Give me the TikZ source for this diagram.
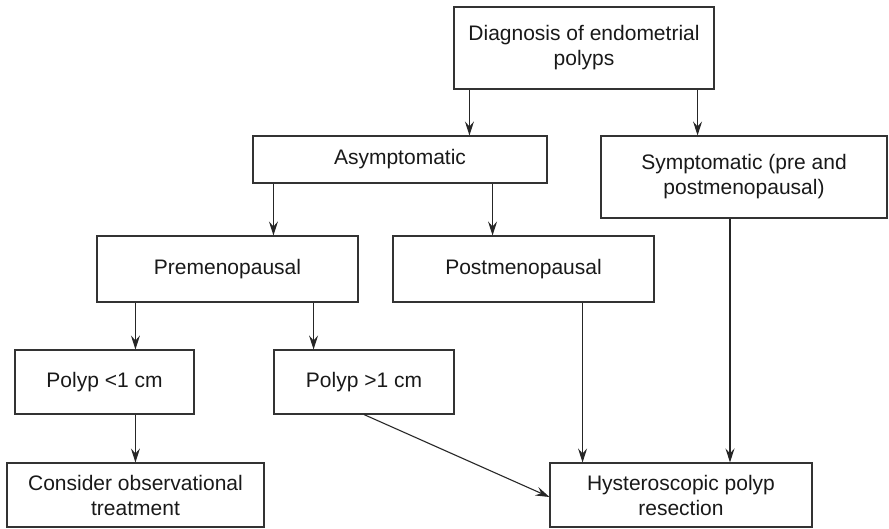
\documentclass[tikz,border=0pt]{standalone}
\usepackage{fontspec}
\setmainfont{Liberation Sans}
\usepackage{tikz}
\usetikzlibrary{arrows.meta,calc}

\begin{document}
\begin{tikzpicture}[
x=1pt,y=-1pt,
font=\fontsize{21}{25}\selectfont,
box/.style={draw=black!80,line width=1.1pt,align=center,inner sep=0pt,text=black!90},
oneway/.style={-{Stealth[length=14pt,width=9pt,inset=5pt]},line width=1.1pt,draw=black!85},
scale=1]
    \useasboundingbox (0,0) rectangle (889,528);

    % Draw boxes
    \node[box,minimum width=260,minimum height=82] (diag) at (584,48)
        {Diagnosis of endometrial\\polyps};
    \node[box,minimum width=294,minimum height=47] (asym) at (400,159.5)
        {Asymptomatic};
    \node[box,minimum width=286,minimum height=82] (symp) at (744,177)
        {Symptomatic (pre and\\postmenopausal)};
    \node[box,minimum width=261,minimum height=66] (pre) at (227.5,269)
        {Premenopausal};
    \node[box,minimum width=261,minimum height=66] (post) at (523.5,269)
        {Postmenopausal};
    \node[box,minimum width=179,minimum height=64] (small) at (104.5,382)
        {Polyp <1 cm};
    \node[box,minimum width=180,minimum height=64] (large) at (364,382)
        {Polyp >1 cm};
    \node[box,minimum width=257,minimum height=64] (obs) at (135.5,495)
        {Consider observational\\treatment};
    \node[box,minimum width=262,minimum height=64] (hyst) at (681,495)
        {Hysteroscopic polyp\\resection};

    % Draw arrows
    \draw[oneway] ([xshift=16]diag.south west) -- ([xshift=16]diag.south west |- asym.north);
    \draw[oneway] ([xshift=-17]diag.south east) -- ([xshift=-17]diag.south east |- symp.north);
    \draw[oneway] ([xshift=21]asym.south west) -- ([xshift=21]asym.south west |- pre.north);
    \draw[oneway] ([xshift=-55]asym.south east) -- ([xshift=-55]asym.south east |- post.north);
    \draw[oneway] ([xshift=39]pre.south west) -- ([xshift=39]pre.south west |- small.north);
    \draw[oneway] ([xshift=-45]pre.south east) -- ([xshift=-45]pre.south east |- large.north);
    \draw[oneway] ([xshift=121]small.south west) -- ([xshift=121]small.south west |- obs.north);
    \draw[oneway] (large.south) -- ([yshift=-2]hyst.west);
    \draw[oneway] ([xshift=-72]post.south east) -- ([xshift=-72]post.south east |- hyst.north);
    \draw[oneway] ([xshift=-14]symp.south) -- ([xshift=-14]symp.south |- hyst.north);

\end{tikzpicture}
\end{document}
